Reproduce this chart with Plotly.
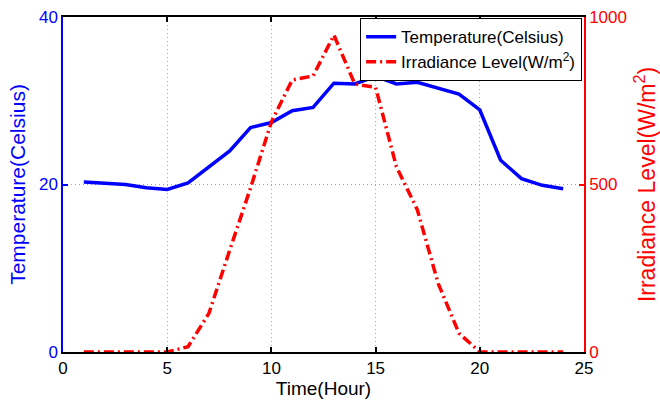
import plotly.graph_objects as go

hours = list(range(1, 25))
temperature = [20.3, 20.2, 20.0, 19.6, 19.4, 20.2, 22.1, 24.0, 26.8, 27.4, 28.8, 29.2,
               32.1, 32.0, 32.9, 32.0, 32.2, 31.5, 30.8, 28.9, 22.9, 20.7, 19.9, 19.5]
irradiance = [0, 0, 0, 0, 0, 16, 115, 304, 490, 687, 812, 824,
              946, 800, 790, 553, 425, 205, 56, 0, 0, 0, 0, 0]

x_ticks = [0, 5, 10, 15, 20, 25]
temp_ticks = [0, 20, 40]
irr_ticks = [0, 500, 1000]

FONT = "Liberation Sans, Arial, sans-serif"

fig = go.Figure()
fig.add_trace(go.Scatter(x=hours, y=temperature, mode="lines", name="Temperature(Celsius)",
                         line=dict(color="#0000ff", width=3.5), yaxis="y"))
fig.add_trace(go.Scatter(x=hours, y=irradiance, mode="lines", name="Irradiance Level(W/m<sup>2</sup>)",
                         line=dict(color="#ff0000", width=3.5, dash="10px,4px,2px,4px"), yaxis="y2"))

fig.update_layout(
    width=660, height=401,
    margin=dict(l=63, r=76, t=17, b=49, autoexpand=False),
    paper_bgcolor="white", plot_bgcolor="white",
    font=dict(family=FONT, size=17, color="black"),
    showlegend=True,
    legend=dict(x=0.996, xanchor="right", y=0.997, yanchor="top",
                bgcolor="white", bordercolor="black", borderwidth=1.2,
                font=dict(family=FONT, size=17, color="black"),
                tracegroupgap=0),
    xaxis=dict(range=[0, 25], tickvals=x_ticks, ticktext=[str(v) for v in x_ticks],
               showline=True, linecolor="black", linewidth=1.5, mirror="ticks",
               ticks="inside", ticklen=5, tickwidth=1.5, tickcolor="black",
               showgrid=True, gridcolor="#aaaaaa", griddash="1px,3px", gridwidth=1,
               zeroline=False, automargin=False,
               tickfont=dict(size=17, color="black"),
               title=dict(text="Time(Hour)", font=dict(size=19, color="black"), standoff=2)),
    yaxis=dict(range=[0, 40], tickvals=temp_ticks, ticktext=[str(v) for v in temp_ticks],
               showline=True, linecolor="#0000ff", linewidth=1.5,
               ticks="inside", ticklen=5, tickwidth=1.5, tickcolor="#0000ff",
               showgrid=True, gridcolor="#9999ff", griddash="1px,3px", gridwidth=1,
               zeroline=False, automargin=False,
               tickfont=dict(size=17, color="#0000ff"),
               title=dict(text="Temperature(Celsius)", font=dict(size=21, color="#0000ff"), standoff=8)),
    yaxis2=dict(range=[0, 1000], tickvals=irr_ticks, ticktext=[str(v) for v in irr_ticks],
                overlaying="y", side="right", anchor="x",
                showline=True, linecolor="#ff0000", linewidth=1.5,
                ticks="inside", ticklen=5, tickwidth=1.5, tickcolor="#ff0000",
                showgrid=False, zeroline=False, automargin=False,
                tickfont=dict(size=17, color="#ff0000"),
                title=dict(text="Irradiance Level(W/m<sup>2</sup>)", font=dict(size=23, color="#ff0000"), standoff=16)),
)

fig.write_html("out.html")
